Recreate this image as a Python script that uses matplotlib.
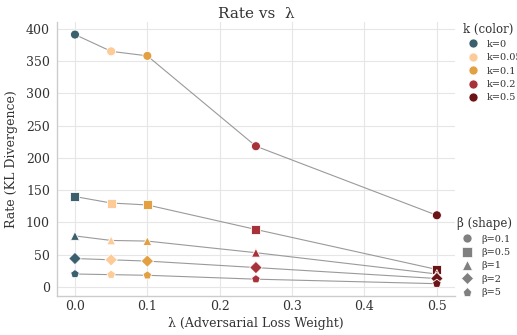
import matplotlib
matplotlib.use("Agg")
import matplotlib.pyplot as plt
from matplotlib.lines import Line2D

plt.rcParams['font.family'] = ['DejaVu Serif']

lambdas = [0.0, 0.05, 0.1, 0.25, 0.5]
k_labels = ["k=0", "k=0.05", "k=0.1", "k=0.2", "k=0.5"]
k_colors = ["#3b5f6d", "#fdcb98", "#e3a043", "#a8323a", "#6a1418"]
betas = ["β=0.1", "β=0.5", "β=1", "β=2", "β=5"]
beta_markers = ["o", "s", "^", "D", "p"]
beta_sizes = [42, 42, 40, 40, 42]
rates = {
    "β=0.1": [391, 365, 358, 218, 111],
    "β=0.5": [140, 130, 127, 89, 27],
    "β=1":   [79, 72, 71, 53, 20],
    "β=2":   [44, 42, 40, 30, 13],
    "β=5":   [20, 19, 18, 12, 5],
}

fig = plt.figure(figsize=(5.17, 3.35), dpi=100)
ax = fig.add_axes([0.110, 0.116, 0.770, 0.818])

for b, m, s in zip(betas, beta_markers, beta_sizes):
    ys = rates[b]
    ax.plot(lambdas, ys, color="#9a9a9a", lw=0.8, zorder=2)
    ax.scatter(lambdas, ys, c=k_colors, marker=m, s=s, edgecolors="white",
               linewidths=0.6, zorder=3)

ax.set_xticks([0.0, 0.1, 0.2, 0.3, 0.4, 0.5])
ax.set_yticks([0, 50, 100, 150, 200, 250, 300, 350, 400])
ax.tick_params(axis="x", labelsize=9, colors="#333333", length=0, pad=3)
ax.tick_params(axis="y", labelsize=9, colors="#333333", length=0, pad=5)
ax.grid(True, color="#e6e6e6", lw=0.8)
ax.set_axisbelow(True)
for sp in ["top", "right"]:
    ax.spines[sp].set_visible(False)
for sp in ["left", "bottom"]:
    ax.spines[sp].set_color("#cccccc")
    ax.spines[sp].set_linewidth(1.0)

ax.set_title("Rate vs  λ", fontsize=11, color="#333333", pad=3)
ax.set_xlabel("λ (Adversarial Loss Weight)", fontsize=9, color="#333333", labelpad=3)
ax.set_ylabel("Rate (KL Divergence)", fontsize=9, color="#333333", labelpad=6)

h1 = [Line2D([], [], marker="o", ls="", color=c, markersize=6.5, markeredgecolor="white",
             markeredgewidth=0.5) for c in k_colors]
leg1 = ax.legend(h1, k_labels, title="k (color)", loc="upper left",
                 bbox_to_anchor=(1.005, 1.02), frameon=False, fontsize=7,
                 title_fontsize=8.5, handletextpad=0.5, labelspacing=0.45,
                 borderaxespad=0.2, alignment="left")
for t in leg1.get_texts():
    t.set_color("#333333")
leg1.get_title().set_color("#333333")
ax.add_artist(leg1)

h2 = [Line2D([], [], marker=m, ls="", color="#808080", markersize=6.5, markeredgecolor="white",
             markeredgewidth=0.5) for m in beta_markers]
leg2 = ax.legend(h2, betas, title="β (shape)", loc="lower left",
                 bbox_to_anchor=(0.99, -0.025), frameon=False, fontsize=7,
                 title_fontsize=8.5, handletextpad=0.5, labelspacing=0.45,
                 borderaxespad=0.2, alignment="left")
for t in leg2.get_texts():
    t.set_color("#333333")
leg2.get_title().set_color("#333333")

fig.savefig("out.png", dpi=100)
